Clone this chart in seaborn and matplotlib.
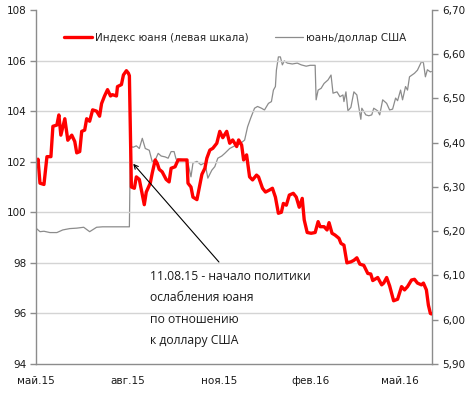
import pandas as pd
import matplotlib.pyplot as plt
import matplotlib.ticker as mticker
import seaborn as sns

# DATA: yuan index (left axis)
idx_dates = [
    "2015-05-01", "2015-05-03", "2015-05-05", "2015-05-09", "2015-05-12", "2015-05-16",
    "2015-05-18", "2015-05-22", "2015-05-24", "2015-05-26", "2015-05-30", "2015-06-02",
    "2015-06-06", "2015-06-09", "2015-06-11", "2015-06-14", "2015-06-16", "2015-06-19",
    "2015-06-21", "2015-06-24", "2015-06-27", "2015-07-01", "2015-07-04", "2015-07-06",
    "2015-07-09", "2015-07-12", "2015-07-15", "2015-07-17", "2015-07-21", "2015-07-22",
    "2015-07-26", "2015-07-28", "2015-07-31", "2015-08-02", "2015-08-03", "2015-08-05",
    "2015-08-08", "2015-08-10", "2015-08-13", "2015-08-15", "2015-08-18", "2015-08-20",
    "2015-08-24", "2015-08-26", "2015-08-29", "2015-08-31", "2015-09-02", "2015-09-05",
    "2015-09-09", "2015-09-12", "2015-09-14", "2015-09-18", "2015-09-21", "2015-09-26",
    "2015-09-30", "2015-10-01", "2015-10-04", "2015-10-06", "2015-10-10", "2015-10-12",
    "2015-10-15", "2015-10-18", "2015-10-20", "2015-10-23", "2015-10-26", "2015-10-30",
    "2015-11-02", "2015-11-05", "2015-11-09", "2015-11-12", "2015-11-15", "2015-11-19",
    "2015-11-21", "2015-11-24", "2015-11-26", "2015-11-29", "2015-12-02", "2015-12-05",
    "2015-12-09", "2015-12-11", "2015-12-15", "2015-12-18", "2015-12-22", "2015-12-25",
    "2015-12-28", "2015-12-31", "2016-01-03", "2016-01-05", "2016-01-08", "2016-01-11",
    "2016-01-15", "2016-01-18", "2016-01-21", "2016-01-24", "2016-01-26", "2016-01-29",
    "2016-02-02", "2016-02-06", "2016-02-09", "2016-02-11", "2016-02-15", "2016-02-18",
    "2016-02-20", "2016-02-23", "2016-02-26", "2016-03-01", "2016-03-03", "2016-03-06",
    "2016-03-09", "2016-03-13", "2016-03-16", "2016-03-19", "2016-03-22", "2016-03-26",
    "2016-03-30", "2016-04-02", "2016-04-04", "2016-04-09", "2016-04-13", "2016-04-15",
    "2016-04-18", "2016-04-21", "2016-04-25", "2016-04-29", "2016-05-03", "2016-05-06",
    "2016-05-09", "2016-05-13", "2016-05-16", "2016-05-19", "2016-05-23", "2016-05-25",
    "2016-05-28", "2016-05-30", "2016-06-01", "2016-06-02",
]
idx_values = [
    101.8, 102.1, 101.15, 101.1, 102.2, 102.2,
    103.4, 103.45, 103.85, 103.05, 103.7, 102.85,
    103.05, 102.8, 102.35, 102.4, 103.2, 103.25,
    103.7, 103.6, 104.05, 104.0, 103.8, 104.3,
    104.6, 104.85, 104.6, 104.65, 104.6, 104.97,
    105.05, 105.43, 105.6, 105.5, 105.4, 101.0,
    100.95, 101.4, 101.3, 100.9, 100.3, 100.8,
    101.15, 101.55, 102.07, 101.94, 101.7, 101.6,
    101.3, 101.2, 101.74, 101.8, 102.07, 102.07,
    102.07, 101.15, 101.0, 100.6, 100.5, 100.9,
    101.5, 101.74, 102.14, 102.46, 102.53, 102.73,
    103.2, 102.95, 103.2, 102.73, 102.86, 102.6,
    102.86, 102.66, 102.07, 102.27, 101.4, 101.28,
    101.47, 101.4, 100.95, 100.8, 100.88, 100.95,
    100.6, 99.96, 100.0, 100.35, 100.28, 100.68,
    100.75, 100.6, 100.2, 100.55, 99.7, 99.2,
    99.17, 99.2, 99.63, 99.43, 99.43, 99.3,
    99.59, 99.17, 99.1, 98.97, 98.77, 98.7,
    98.0, 98.04, 98.1, 98.2, 97.95, 97.9,
    97.58, 97.56, 97.3, 97.42, 97.13, 97.2,
    97.42, 97.09, 96.5, 96.56, 97.06, 96.93,
    97.06, 97.32, 97.35, 97.2, 97.13, 97.2,
    96.93, 96.33, 96.0, 95.98,
]

# DATA: yuan per US dollar (right axis)
fx_dates = [
    "2015-05-01", "2015-05-05", "2015-05-09", "2015-05-15", "2015-05-22", "2015-05-28",
    "2015-06-04", "2015-06-11", "2015-06-18", "2015-06-24", "2015-07-01", "2015-07-07",
    "2015-07-14", "2015-07-24", "2015-08-03", "2015-08-04", "2015-08-07", "2015-08-10",
    "2015-08-13", "2015-08-16", "2015-08-19", "2015-08-23", "2015-08-26", "2015-08-29",
    "2015-09-01", "2015-09-04", "2015-09-08", "2015-09-11", "2015-09-14", "2015-09-17",
    "2015-09-19", "2015-09-23", "2015-09-28", "2015-10-01", "2015-10-04", "2015-10-06",
    "2015-10-10", "2015-10-14", "2015-10-18", "2015-10-21", "2015-10-25", "2015-10-28",
    "2015-10-31", "2015-11-04", "2015-11-07", "2015-11-12", "2015-11-17", "2015-11-22",
    "2015-11-27", "2015-11-30", "2015-12-03", "2015-12-07", "2015-12-10", "2015-12-14",
    "2015-12-17", "2015-12-21", "2015-12-24", "2015-12-26", "2015-12-28", "2015-12-29",
    "2015-12-31", "2016-01-02", "2016-01-04", "2016-01-06", "2016-01-09", "2016-01-14",
    "2016-01-19", "2016-01-23", "2016-01-28", "2016-02-01", "2016-02-06", "2016-02-07",
    "2016-02-09", "2016-02-12", "2016-02-15", "2016-02-19", "2016-02-22", "2016-02-24",
    "2016-02-28", "2016-03-02", "2016-03-05", "2016-03-06", "2016-03-08", "2016-03-10",
    "2016-03-13", "2016-03-16", "2016-03-19", "2016-03-21", "2016-03-23", "2016-03-24",
    "2016-03-28", "2016-03-31", "2016-04-03", "2016-04-05", "2016-04-09", "2016-04-11",
    "2016-04-14", "2016-04-18", "2016-04-21", "2016-04-24", "2016-04-27", "2016-04-29",
    "2016-05-02", "2016-05-04", "2016-05-07", "2016-05-09", "2016-05-11", "2016-05-16",
    "2016-05-19", "2016-05-23", "2016-05-25", "2016-05-27", "2016-05-29", "2016-06-01",
    "2016-06-02",
]
fx_values = [
    6.207, 6.199, 6.200, 6.197, 6.197, 6.203,
    6.206, 6.207, 6.209, 6.199, 6.209, 6.210,
    6.210, 6.210, 6.210, 6.391, 6.390, 6.393,
    6.387, 6.410, 6.387, 6.383, 6.357, 6.361,
    6.376, 6.370, 6.368, 6.365, 6.380, 6.380,
    6.363, 6.363, 6.361, 6.354, 6.323, 6.354,
    6.358, 6.350, 6.355, 6.320, 6.338, 6.346,
    6.365, 6.370, 6.376, 6.387, 6.393, 6.397,
    6.406, 6.436, 6.455, 6.478, 6.482, 6.478,
    6.474, 6.489, 6.493, 6.519, 6.527, 6.564,
    6.594, 6.594, 6.576, 6.585, 6.580, 6.578,
    6.580, 6.576, 6.573, 6.575, 6.575, 6.497,
    6.519, 6.523, 6.534, 6.542, 6.553, 6.512,
    6.515, 6.504, 6.508, 6.493, 6.515, 6.472,
    6.480, 6.515, 6.508, 6.480, 6.453, 6.478,
    6.463, 6.461, 6.463, 6.478, 6.472, 6.463,
    6.497, 6.489, 6.474, 6.476, 6.501, 6.495,
    6.519, 6.497, 6.527, 6.519, 6.549, 6.557,
    6.564, 6.583, 6.581, 6.549, 6.565, 6.560,
    6.561,
]

idx_label = "Индекс юаня (левая шкала)"
fx_label = "юань/доллар США"
note_text = "11.08.15 - начало политики\nослабления юаня\nпо отношению\nк доллару США"
month_ticks = ["2015-05-01", "2015-08-01", "2015-11-01", "2016-02-01", "2016-05-01"]
month_labels = ["май.15", "авг.15", "ноя.15", "фев.16", "май.16"]

df_idx = pd.DataFrame({"date": pd.to_datetime(idx_dates), "value": idx_values})
df_fx = pd.DataFrame({"date": pd.to_datetime(fx_dates), "value": fx_values})

# STYLE
sns.set_style("white")
plt.rcParams["font.family"] = ["DejaVu Sans"]
plt.rcParams["font.size"] = 7.5

fig = plt.figure(figsize=(4.72, 3.95), dpi=100)
ax = fig.add_axes([0.0763, 0.0785, 0.8397, 0.8962])
ax2 = ax.twinx()

sns.lineplot(data=df_fx, x="date", y="value", ax=ax2, color="#8c8c8c",
             linewidth=0.9, label=fx_label, legend=False)
sns.lineplot(data=df_idx, x="date", y="value", ax=ax, color="#ff0000",
             linewidth=2.4, label=idx_label, legend=False)

# red line above the grey one
ax.set_zorder(ax2.get_zorder() + 1)
ax.patch.set_visible(False)

ax.set_xlim(pd.Timestamp("2015-05-01"), pd.Timestamp("2016-06-03"))
ax.set_ylim(94, 108)
ax2.set_ylim(5.9, 6.7)
ax.set_yticks([94, 96, 98, 100, 102, 104, 106, 108])
ax2.set_yticks([5.9, 6.0, 6.1, 6.2, 6.3, 6.4, 6.5, 6.6, 6.7])
ax2.yaxis.set_major_formatter(mticker.FuncFormatter(lambda v, p: f"{v:.2f}".replace(".", ",")))
ax.set_xticks(pd.to_datetime(month_ticks))
ax.set_xticklabels(month_labels)
ax.set_xlabel("")
ax.set_ylabel("")
ax2.set_ylabel("")

# GRID
for v in [96, 98, 100, 102, 104, 106]:
    ax.axhline(v, color="#d4d4d4", linewidth=1.0, zorder=0)

# SPINES AND TICKS
for a in (ax, ax2):
    for side in ["top", "left", "right", "bottom"]:
        a.spines[side].set_visible(False)
ax.spines["left"].set_visible(True)
ax.spines["bottom"].set_visible(True)
ax2.spines["right"].set_visible(True)
for sp in [ax.spines["left"], ax.spines["bottom"], ax2.spines["right"]]:
    sp.set_color("#8c8c8c")
    sp.set_linewidth(1.0)
ax.tick_params(axis="y", direction="out", length=4, width=1, color="#8c8c8c",
               labelsize=7.5, labelcolor="#1a1a1a", pad=3)
ax.tick_params(axis="x", direction="out", length=4, width=1, color="#8c8c8c",
               labelsize=7.5, labelcolor="#1a1a1a", pad=5)
ax2.tick_params(axis="y", direction="out", length=4, width=1, color="#8c8c8c",
                labelsize=7.5, labelcolor="#1a1a1a", pad=3)

# LEGEND
h1, l1 = ax.get_legend_handles_labels()
h2, l2 = ax2.get_legend_handles_labels()
ax.legend(h1 + h2, l1 + l2, loc="center", bbox_to_anchor=(0.503, 0.921), ncol=2,
          frameon=False, fontsize=7.5, handlelength=2.7, columnspacing=2.5,
          handletextpad=0.3)

# ANNOTATION
ax.annotate("", xy=(pd.Timestamp("2015-08-05"), 102.0),
            xytext=(pd.Timestamp("2015-11-03"), 97.95),
            arrowprops=dict(arrowstyle="->", color="black", lw=0.8))
ax.text(pd.Timestamp("2015-08-24"), 97.72, note_text, fontsize=8.7,
        family=["Open Sans", "DejaVu Sans"], va="top", ha="left",
        linespacing=1.85, color="#1a1a1a")

fig.savefig("out.png", dpi=100)
